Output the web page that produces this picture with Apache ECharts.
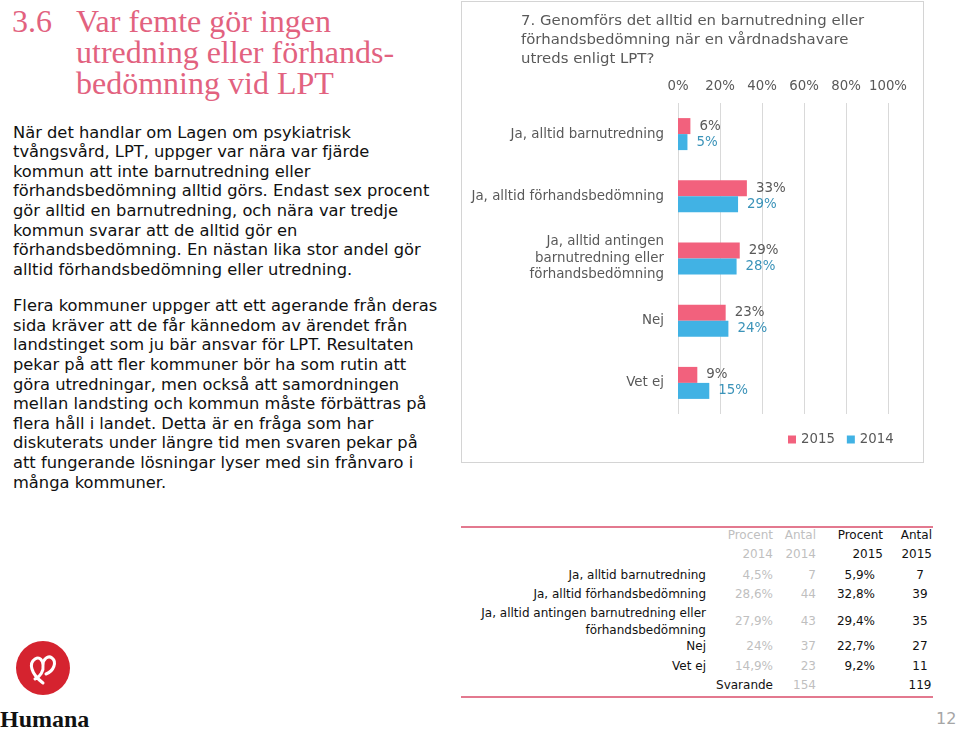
<!DOCTYPE html>
<html>
<head>
<meta charset="utf-8">
<script src="https://cdn.jsdelivr.net/npm/echarts/dist/echarts.min.js"></script>
<style>
  html, body { margin: 0; padding: 0; background: #fff; }
  body { width: 959px; height: 731px; position: relative; overflow: hidden; font-family: "DejaVu Sans", Verdana, sans-serif; }
  .abs { position: absolute; white-space: nowrap; }
  .title { font-family: "Liberation Serif", "Times New Roman", serif; font-size: 32px; line-height: 31px; color: #E2627F; }
  .body { font-size: 16.3px; line-height: 19.6px; color: #111; left: 13px; }
  #box { position: absolute; left: 461px; top: 1px; width: 461px; height: 460px; border: 1px solid #D4D4D4; }
  #chart { width: 461px; height: 460px; }
  .cell { position: absolute; font-size: 12px; line-height: 17px; white-space: nowrap; }
</style>
</head>
<body>
<div class="abs title" style="left:12px; top:6px;">3.6</div>
<div class="abs title" style="left:76px; top:6px;">Var femte gör ingen<br>utredning eller förhands-<br>bedömning vid LPT</div>

<div class="abs body" style="top:122.6px;">När det handlar om Lagen om psykiatrisk<br>tvångsvård, LPT, uppger var nära var fjärde<br>kommun att inte barnutredning eller<br>förhandsbedömning alltid görs. Endast sex procent<br>gör alltid en barnutredning, och nära var tredje<br>kommun svarar att de alltid gör en<br>förhandsbedömning. En nästan lika stor andel gör<br>alltid förhandsbedömning eller utredning.</div>

<div class="abs body" style="top:296.3px;">Flera kommuner uppger att ett agerande från deras<br>sida kräver att de får kännedom av ärendet från<br>landstinget som ju bär ansvar för LPT. Resultaten<br>pekar på att fler kommuner bör ha som rutin att<br>göra utredningar, men också att samordningen<br>mellan landsting och kommun måste förbättras på<br>flera håll i landet. Detta är en fråga som har<br>diskuterats under längre tid men svaren pekar på<br>att fungerande lösningar lyser med sin frånvaro i<br>många kommuner.</div>

<div id="box"><div id="chart"></div></div>

<div id="table"></div>

<div class="abs" style="left:16px; top:641px; width:54px; height:54px; border-radius:50%; background:#D5232F;">
  <svg width="54" height="54" viewBox="0 0 54 54">
    <path d="M27 42 C 14 32, 13 22, 19 18 C 24 15, 27 20, 27 24 C 27 18, 32 14, 36 17 C 41 21, 38 30, 30 33 M 27 24 C 28 30, 24 36, 19 38" fill="none" stroke="#fff" stroke-width="3" stroke-linecap="round"/>
  </svg>
</div>
<div class="abs" style="left:0px; top:704px; font-family:'Liberation Serif',serif; font-weight:bold; font-size:24px; line-height:30px; color:#111;">Humana</div>

<div class="abs" style="left:936px; top:709px; font-size:16px; line-height:20px; color:#A6A6A6;">12</div>

<script>
// ---- data ----
const categories = ['Ja, alltid barnutredning', 'Ja, alltid förhandsbedömning', 'Ja, alltid antingen barnutredning eller förhandsbedömning', 'Nej', 'Vet ej'];
const chartCategoryLabels = ['Ja, alltid barnutredning', 'Ja, alltid förhandsbedömning', 'Ja, alltid antingen\nbarnutredning eller\nförhandsbedömning', 'Nej', 'Vet ej'];
const tableCategoryLabels = ['Ja, alltid barnutredning', 'Ja, alltid förhandsbedömning', 'Ja, alltid antingen barnutredning eller\nförhandsbedömning', 'Nej', 'Vet ej'];
const seriesNames = ['2015', '2014'];
const percent2015 = [5.9, 32.8, 29.4, 22.7, 9.2];
const percent2014 = [4.5, 28.6, 27.9, 24, 14.9];
const count2015 = [7, 39, 35, 27, 11];
const count2014 = [7, 44, 43, 37, 23];
const respondents2015 = 119;
const respondents2014 = 154;
const axisMin = 0, axisMax = 100, axisInterval = 20;
const chartTitle = '7. Genomförs det alltid en barnutredning eller\nförhandsbedömning när en vårdnadshavare\nutreds enligt LPT?';

// ---- chart ----
const FONT = '"DejaVu Sans", Verdana, sans-serif';
const chart = echarts.init(document.getElementById('chart'), null, { renderer: 'canvas' });
chart.setOption({
  animation: false,
  title: {
    text: chartTitle, left: 59, top: 10, padding: 0,
    textStyle: { fontFamily: FONT, fontSize: 14.9, fontWeight: 'normal', color: '#595959', lineHeight: 19 }
  },
  legend: {
    data: seriesNames, left: 326, top: 431, padding: 0, itemGap: 12,
    itemWidth: 8, itemHeight: 8, icon: 'rect',
    textStyle: { fontFamily: FONT, fontSize: 13.3, color: '#595959' }
  },
  grid: { left: 216, top: 101, width: 210, height: 311, containLabel: false },
  xAxis: {
    type: 'value', position: 'top', min: axisMin, max: axisMax, interval: axisInterval,
    axisLine: { show: false }, axisTick: { show: false },
    axisLabel: { formatter: '{value}%', fontFamily: FONT, fontSize: 13.3, color: '#595959', margin: 10 },
    splitLine: { lineStyle: { color: '#D9D9D9', width: 1 } }
  },
  yAxis: {
    type: 'category', data: chartCategoryLabels, inverse: true,
    axisLine: { show: false }, axisTick: { show: false },
    axisLabel: { interval: 0, fontFamily: FONT, fontSize: 13.4, color: '#595959', margin: 14, lineHeight: 16.5, align: 'right' }
  },
  series: [
    {
      name: seriesNames[0], type: 'bar', data: percent2015, barWidth: 16, barGap: '0%',
      itemStyle: { color: '#F2617D' },
      label: { show: true, position: 'right', distance: 9, fontFamily: FONT, fontSize: 13.4, color: '#595959',
        formatter: p => Math.round(p.value) + '%' }
    },
    {
      name: seriesNames[1], type: 'bar', data: percent2014, barWidth: 16, barGap: '0%',
      itemStyle: { color: '#41B2E4' },
      label: { show: true, position: 'right', distance: 9, fontFamily: FONT, fontSize: 13.4, color: '#3B93B9',
        formatter: p => Math.round(p.value) + '%' }
    }
  ]
});

// ---- table ----
const fmt = v => (Number.isInteger(v) ? String(v) : v.toFixed(1).replace('.', ',')) + '%';
const table = document.getElementById('table');
function cell(text, x, y, align, color) {
  const d = document.createElement('div');
  d.className = 'cell';
  d.style.color = color;
  d.style.textAlign = align;
  const lines = text.split('\n');
  const h = lines.length * 17;
  d.style.top = (y - h / 2) + 'px';
  if (align === 'right') { d.style.right = (959 - x) + 'px'; }
  else if (align === 'center') { d.style.left = (x - 60) + 'px'; d.style.width = '120px'; }
  else { d.style.left = x + 'px'; }
  d.innerHTML = lines.join('<br>');
  table.appendChild(d);
}
function hline(y) {
  const d = document.createElement('div');
  d.style.cssText = 'position:absolute;left:461px;width:472px;top:' + y + 'px;height:2px;background:#E3798F;';
  table.appendChild(d);
}
hline(526); hline(696);
const GRAY = '#BFBFBF', BLACK = '#111';
cell('Procent', 773, 535, 'right', GRAY); cell('Antal', 816, 535, 'right', GRAY);
cell('Procent', 883, 535, 'right', BLACK); cell('Antal', 932, 535, 'right', BLACK);
cell('2014', 773, 554, 'right', GRAY); cell('2014', 816, 554, 'right', GRAY);
cell('2015', 883, 554, 'right', BLACK); cell('2015', 932, 554, 'right', BLACK);
const rowY = [575, 594, 621.5, 646, 666];
categories.forEach((c, i) => {
  cell(tableCategoryLabels[i], 706, rowY[i], 'right', BLACK);
  cell(fmt(percent2014[i]), 773, rowY[i], 'right', GRAY);
  cell(String(count2014[i]), 816, rowY[i], 'right', GRAY);
  cell(fmt(percent2015[i]), 875, rowY[i], 'right', BLACK);
  cell(String(count2015[i]), 920, rowY[i], 'center', BLACK);
});
cell('Svarande', 773, 685, 'right', BLACK);
cell(String(respondents2014), 816, 685, 'right', GRAY);
cell(String(respondents2015), 920, 685, 'center', BLACK);
</script>
</body>
</html>
